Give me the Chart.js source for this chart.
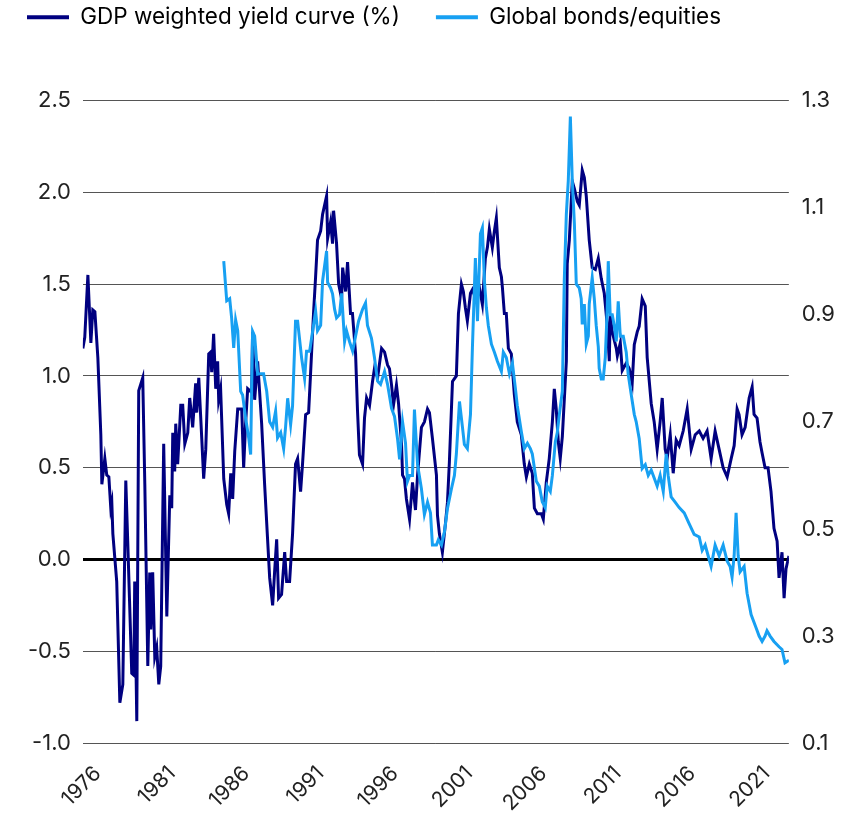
<!DOCTYPE html>
<html>
<head>
<meta charset="utf-8">
<script src="https://cdn.jsdelivr.net/npm/chart.js@4.4.1/dist/chart.umd.min.js"></script>
<style>
  body { margin: 0; background: #fff; }
  #wrap { width: 864px; height: 814px; }
</style>
</head>
<body>
<div id="wrap"><canvas id="myChart"></canvas></div>
<script>
// GDP weighted yield curve (%) - left axis
const yieldYears = [
  1975.00, 1975.13, 1975.34, 1975.54, 1975.67, 1975.81, 1976.01, 1976.21, 1976.28, 1976.48,
  1976.61, 1976.75, 1976.88, 1976.95, 1977.02, 1977.28, 1977.49, 1977.69, 1977.89, 1978.02,
  1978.29, 1978.43, 1978.49, 1978.63, 1978.76, 1979.03, 1979.17, 1979.37, 1979.50, 1979.57,
  1979.70, 1979.84, 1979.97, 1980.11, 1980.24, 1980.44, 1980.65, 1980.85, 1980.98, 1981.05,
  1981.18, 1981.25, 1981.38, 1981.59, 1981.72, 1981.86, 1982.06, 1982.19, 1982.39, 1982.59,
  1982.66, 1982.80, 1983.00, 1983.13, 1983.27, 1983.47, 1983.60, 1983.67, 1983.80, 1983.94,
  1984.07, 1984.14, 1984.27, 1984.48, 1984.68, 1984.81, 1984.95, 1985.08, 1985.22, 1985.42,
  1985.69, 1985.82, 1985.95, 1986.09, 1986.36, 1986.42, 1986.56, 1986.76, 1987.03, 1987.23,
  1987.43, 1987.57, 1987.77, 1987.90, 1988.04, 1988.17, 1988.37, 1988.58, 1988.71, 1988.91,
  1989.11, 1989.31, 1989.45, 1989.65, 1989.78, 1989.99, 1990.19, 1990.32, 1990.52, 1990.66,
  1990.79, 1991.00, 1991.13, 1991.40, 1991.47, 1991.67, 1991.80, 1991.87, 1992.07, 1992.21,
  1992.41, 1992.48, 1992.68, 1992.81, 1993.01, 1993.14, 1993.35, 1993.48, 1993.61, 1993.82,
  1993.95, 1994.09, 1994.29, 1994.49, 1994.62, 1994.83, 1995.10, 1995.30, 1995.50, 1995.63,
  1995.77, 1995.90, 1996.10, 1996.24, 1996.44, 1996.51, 1996.64, 1996.77, 1996.98, 1997.18,
  1997.38, 1997.52, 1997.78, 1997.98, 1998.19, 1998.32, 1998.52, 1998.79, 1998.86, 1998.99,
  1999.19, 1999.40, 1999.53, 1999.66, 1999.87, 2000.13, 2000.27, 2000.47, 2000.60, 2000.74,
  2000.87, 2001.08, 2001.21, 2001.48, 2001.68, 2001.88, 2002.08, 2002.22, 2002.35, 2002.55,
  2002.69, 2002.82, 2003.02, 2003.16, 2003.23, 2003.36, 2003.49, 2003.63, 2003.83, 2004.03,
  2004.23, 2004.50, 2004.70, 2004.84, 2005.04, 2005.24, 2005.38, 2005.58, 2005.85, 2005.98,
  2006.18, 2006.38, 2006.59, 2006.72, 2006.85, 2006.99, 2007.12, 2007.26, 2007.53, 2007.59,
  2007.73, 2007.93, 2008.07, 2008.27, 2008.40, 2008.60, 2008.74, 2008.87, 2009.07, 2009.27,
  2009.48, 2009.68, 2009.88, 2010.08, 2010.28, 2010.42, 2010.48, 2010.62, 2010.89, 2010.96,
  2011.16, 2011.29, 2011.56, 2011.76, 2011.96, 2012.10, 2012.30, 2012.43, 2012.63, 2012.84,
  2012.97, 2013.24, 2013.44, 2013.64, 2013.84, 2013.98, 2014.18, 2014.31, 2014.52, 2014.72,
  2014.92, 2015.12, 2015.39, 2015.66, 2015.93, 2016.20, 2016.47, 2016.73, 2017.00, 2017.27,
  2017.54, 2017.81, 2018.08, 2018.35, 2018.62, 2018.82, 2019.02, 2019.15, 2019.35, 2019.56,
  2019.83, 2020.03, 2020.16, 2020.36, 2020.56, 2020.70, 2020.90, 2021.10, 2021.30, 2021.50,
  2021.71, 2021.84, 2022.04, 2022.18, 2022.31, 2022.51
];
const yieldValues = [
  1.15, 1.21, 1.55, 1.18, 1.36, 1.35, 1.10, 0.68, 0.41, 0.55,
  0.46, 0.45, 0.28, 0.31, 0.14, -0.12, -0.78, -0.68, 0.43, 0.10,
  -0.62, -0.63, -0.12, -0.88, 0.92, 0.99, 0.41, -0.58, -0.07, -0.38,
  -0.07, -0.53, -0.48, -0.68, -0.58, 0.63, -0.31, 0.35, 0.28, 0.69,
  0.48, 0.74, 0.52, 0.84, 0.84, 0.63, 0.69, 0.88, 0.72, 0.96,
  0.80, 0.99, 0.66, 0.44, 0.60, 1.12, 1.13, 1.02, 1.23, 0.93,
  1.08, 0.87, 0.93, 0.44, 0.30, 0.25, 0.47, 0.33, 0.59, 0.82,
  0.82, 0.50, 0.74, 0.93, 0.91, 1.24, 0.87, 1.08, 0.74, 0.41,
  0.11, -0.10, -0.25, -0.07, 0.11, -0.21, -0.19, 0.04, -0.12, -0.12,
  0.14, 0.52, 0.55, 0.37, 0.52, 0.79, 0.80, 1.01, 1.34, 1.54,
  1.74, 1.79, 1.88, 1.98, 1.75, 1.84, 1.72, 1.90, 1.72, 1.50,
  1.42, 1.59, 1.46, 1.62, 1.34, 1.34, 1.12, 0.81, 0.57, 0.52,
  0.77, 0.88, 0.84, 0.97, 1.04, 0.99, 1.15, 1.13, 1.06, 1.04,
  0.95, 0.84, 0.95, 0.85, 0.63, 0.46, 0.44, 0.33, 0.22, 0.42,
  0.27, 0.46, 0.72, 0.75, 0.82, 0.80, 0.66, 0.46, 0.24, 0.14,
  0.04, 0.20, 0.31, 0.53, 0.97, 1.00, 1.34, 1.50, 1.46, 1.37,
  1.30, 1.45, 1.47, 1.41, 1.48, 1.39, 1.64, 1.70, 1.80, 1.70,
  1.79, 1.86, 1.59, 1.54, 1.48, 1.34, 1.34, 1.15, 1.12, 0.90,
  0.75, 0.68, 0.52, 0.45, 0.52, 0.47, 0.28, 0.25, 0.25, 0.22,
  0.42, 0.55, 0.75, 0.93, 0.82, 0.64, 0.55, 0.67, 1.08, 1.61,
  1.74, 2.06, 2.02, 1.95, 1.93, 2.12, 2.08, 1.98, 1.74, 1.59,
  1.58, 1.64, 1.53, 1.45, 1.28, 1.08, 1.33, 1.24, 1.15, 1.11,
  1.18, 1.03, 1.07, 1.04, 0.96, 1.17, 1.24, 1.27, 1.42, 1.38,
  1.10, 0.85, 0.75, 0.60, 0.75, 0.88, 0.60, 0.55, 0.68, 0.47,
  0.65, 0.62, 0.70, 0.82, 0.60, 0.68, 0.70, 0.66, 0.70, 0.55,
  0.70, 0.60, 0.50, 0.45, 0.55, 0.62, 0.82, 0.79, 0.68, 0.72,
  0.88, 0.94, 0.79, 0.77, 0.64, 0.58, 0.50, 0.50, 0.37, 0.17,
  0.10, -0.10, 0.04, -0.21, -0.05, 0.02
];

// Global bonds/equities - right axis
const ratioYears = [
  1984.48, 1984.68, 1984.88, 1985.01, 1985.15, 1985.28, 1985.42, 1985.62, 1985.75, 1985.95,
  1986.16, 1986.29, 1986.42, 1986.56, 1986.76, 1986.96, 1987.16, 1987.37, 1987.57, 1987.77,
  1987.97, 1988.10, 1988.31, 1988.51, 1988.64, 1988.78, 1988.98, 1989.11, 1989.31, 1989.45,
  1989.72, 1989.92, 1990.05, 1990.26, 1990.46, 1990.66, 1990.79, 1991.00, 1991.13, 1991.40,
  1991.47, 1991.67, 1991.80, 1991.94, 1992.07, 1992.27, 1992.41, 1992.61, 1992.74, 1992.94,
  1993.15, 1993.35, 1993.55, 1993.82, 1994.02, 1994.15, 1994.42, 1994.62, 1994.83, 1995.03,
  1995.30, 1995.50, 1995.77, 1995.97, 1996.17, 1996.31, 1996.51, 1996.71, 1996.84, 1996.98,
  1997.18, 1997.31, 1997.52, 1997.78, 1997.98, 1998.19, 1998.39, 1998.52, 1998.79, 1998.92,
  1999.13, 1999.33, 1999.53, 1999.80, 2000.00, 2000.13, 2000.34, 2000.54, 2000.67, 2000.87,
  2001.08, 2001.21, 2001.41, 2001.55, 2001.75, 2001.88, 2002.02, 2002.15, 2002.28, 2002.49,
  2002.69, 2002.89, 2003.16, 2003.29, 2003.49, 2003.70, 2003.90, 2004.10, 2004.23, 2004.50,
  2004.70, 2004.91, 2005.11, 2005.24, 2005.51, 2005.71, 2005.91, 2006.11, 2006.24, 2006.45,
  2006.59, 2006.79, 2006.92, 2007.06, 2007.26, 2007.39, 2007.53, 2007.66, 2007.80, 2007.93,
  2008.07, 2008.20, 2008.40, 2008.53, 2008.60, 2008.74, 2008.87, 2009.01, 2009.07, 2009.27,
  2009.41, 2009.54, 2009.68, 2009.74, 2009.88, 2010.01, 2010.15, 2010.28, 2010.35, 2010.48,
  2010.62, 2010.75, 2010.89, 2011.02, 2011.16, 2011.36, 2011.56, 2011.69, 2011.90, 2012.10,
  2012.23, 2012.43, 2012.63, 2012.84, 2013.04, 2013.24, 2013.44, 2013.64, 2013.84, 2014.05,
  2014.25, 2014.38, 2014.58, 2014.85, 2015.12, 2015.46, 2015.79, 2016.13, 2016.47, 2016.67,
  2016.87, 2017.07, 2017.27, 2017.54, 2017.81, 2018.08, 2018.35, 2018.55, 2018.68, 2018.82,
  2018.95, 2019.09, 2019.22, 2019.49, 2019.69, 2019.96, 2020.30, 2020.50, 2020.70, 2020.90,
  2021.03, 2021.24, 2021.50, 2021.84, 2022.04, 2022.24, 2022.51
];
const ratioValues = [
  1.00, 0.926, 0.93, 0.894, 0.838, 0.89, 0.87, 0.757, 0.75, 0.707,
  0.67, 0.639, 0.869, 0.86, 0.789, 0.79, 0.79, 0.757, 0.70, 0.69,
  0.72, 0.67, 0.68, 0.65, 0.69, 0.744, 0.695, 0.73, 0.888, 0.888,
  0.819, 0.781, 0.832, 0.832, 0.869, 0.907, 0.87, 0.88, 0.963, 1.019,
  0.96, 0.95, 0.939, 0.91, 0.894, 0.90, 0.94, 0.85, 0.87, 0.85,
  0.832, 0.86, 0.888, 0.91, 0.922, 0.88, 0.856, 0.82, 0.776, 0.77,
  0.794, 0.77, 0.725, 0.71, 0.669, 0.63, 0.70, 0.66, 0.589, 0.60,
  0.60, 0.723, 0.62, 0.575, 0.527, 0.55, 0.53, 0.47, 0.47, 0.48,
  0.47, 0.495, 0.538, 0.575, 0.60, 0.64, 0.738, 0.69, 0.658, 0.65,
  0.714, 0.838, 1.006, 0.888, 1.051, 1.062, 0.963, 0.913, 0.88, 0.845,
  0.83, 0.813, 0.794, 0.83, 0.82, 0.79, 0.81, 0.763, 0.73, 0.682,
  0.65, 0.66, 0.65, 0.64, 0.589, 0.58, 0.551, 0.54, 0.58, 0.57,
  0.60, 0.663, 0.68, 0.714, 0.757, 0.963, 1.088, 1.15, 1.27, 1.15,
  1.07, 0.957, 0.95, 0.93, 0.882, 0.92, 0.845, 0.86, 0.92, 0.969,
  0.93, 0.88, 0.84, 0.80, 0.78, 0.78, 0.82, 0.91, 1.00, 0.90,
  0.90, 0.88, 0.85, 0.925, 0.86, 0.86, 0.83, 0.789, 0.75, 0.714,
  0.70, 0.669, 0.613, 0.62, 0.60, 0.61, 0.595, 0.58, 0.60, 0.57,
  0.64, 0.60, 0.56, 0.55, 0.54, 0.53, 0.51, 0.49, 0.485, 0.46,
  0.47, 0.45, 0.43, 0.47, 0.45, 0.47, 0.44, 0.43, 0.41, 0.45,
  0.53, 0.45, 0.42, 0.43, 0.38, 0.34, 0.315, 0.30, 0.29, 0.30,
  0.31, 0.30, 0.29, 0.28, 0.275, 0.25, 0.255
];

const yearTicks = [1976, 1981, 1986, 1991, 1996, 2001, 2006, 2011, 2016, 2021];
const leftTicks = [-1.0, -0.5, 0.0, 0.5, 1.0, 1.5, 2.0, 2.5];
const rightTicks = [0.1, 0.3, 0.5, 0.7, 0.9, 1.1, 1.3];

const darkBlue = '#000080';
const lightBlue = '#17a0f2';
const FONT = 'Inter, "Noto Sans", sans-serif';

// the legend gets its space reserved by layout, then is drawn higher and further left
const LEGEND_LIFT = 62;
const LEGEND_SHIFT = 25;
const legendMove = {
  id: 'legendMove',
  afterLayout(chart) {
    chart.legend.top -= LEGEND_LIFT;
    chart.legend.bottom -= LEGEND_LIFT;
    chart.legend.left -= LEGEND_SHIFT;
  }
};

const ctx = document.getElementById('myChart').getContext('2d');

const myChart = new Chart(ctx, {
  type: 'line',
  data: {
    datasets: [{
      label: 'GDP weighted yield curve (%)',
      data: yieldYears.map((y, i) => ({ x: y, y: yieldValues[i] })),
      borderColor: darkBlue,
      backgroundColor: darkBlue,
      borderWidth: 3,
      pointRadius: 0,
      yAxisID: 'y',
      order: 2
    }, {
      label: 'Global bonds/equities',
      data: ratioYears.map((y, i) => ({ x: y, y: ratioValues[i] })),
      borderColor: lightBlue,
      backgroundColor: lightBlue,
      borderWidth: 3,
      pointRadius: 0,
      yAxisID: 'y1',
      order: 1
    }]
  },
  options: {
    responsive: true,
    maintainAspectRatio: false,
    animation: false,
    layout: { padding: { top: 32, left: 16, right: 16, bottom: -20 } },
    plugins: {
      tooltip: { enabled: false },
      legend: {
        position: 'top',
        align: 'start',
        labels: {
          boxWidth: 42,
          boxHeight: 4,
          padding: 36,
          color: '#222',
          font: { family: FONT, size: 22.5 },
          generateLabels: chart => chart.data.datasets.map((ds, i) => ({
            text: ds.label,
            fillStyle: ds.borderColor,
            strokeStyle: ds.borderColor,
            lineWidth: 0,
            datasetIndex: i,
            hidden: false
          }))
        }
      }
    },
    scales: {
      x: {
        type: 'linear',
        min: 1975,
        max: 2022.5,
        afterBuildTicks: axis => { axis.ticks = yearTicks.map(v => ({ value: v })); },
        grid: { display: false, drawTicks: false },
        border: { display: false },
        ticks: {
          minRotation: 45,
          maxRotation: 45,
          padding: 18,
          color: '#222',
          font: { family: FONT, size: 21 },
          callback: v => String(v)
        }
      },
      y: {
        position: 'left',
        min: -1,
        max: 2.5,
        afterBuildTicks: axis => { axis.ticks = leftTicks.map(v => ({ value: v })); },
        grid: {
          drawTicks: false,
          color: c => c.tick.value === 0 ? '#000' : '#555',
          lineWidth: c => c.tick.value === 0 ? 3 : 1
        },
        border: { display: false },
        ticks: {
          padding: 12,
          color: '#222',
          font: { family: FONT, size: 22 },
          callback: v => v.toFixed(1)
        }
      },
      y1: {
        position: 'right',
        min: 0.1,
        max: 1.3,
        afterBuildTicks: axis => { axis.ticks = rightTicks.map(v => ({ value: v })); },
        grid: { drawOnChartArea: false, drawTicks: false },
        border: { display: false },
        ticks: {
          padding: 13,
          color: '#222',
          font: { family: FONT, size: 22 },
          callback: v => v.toFixed(1)
        }
      }
    }
  },
  plugins: [legendMove]
});
</script>
</body>
</html>
